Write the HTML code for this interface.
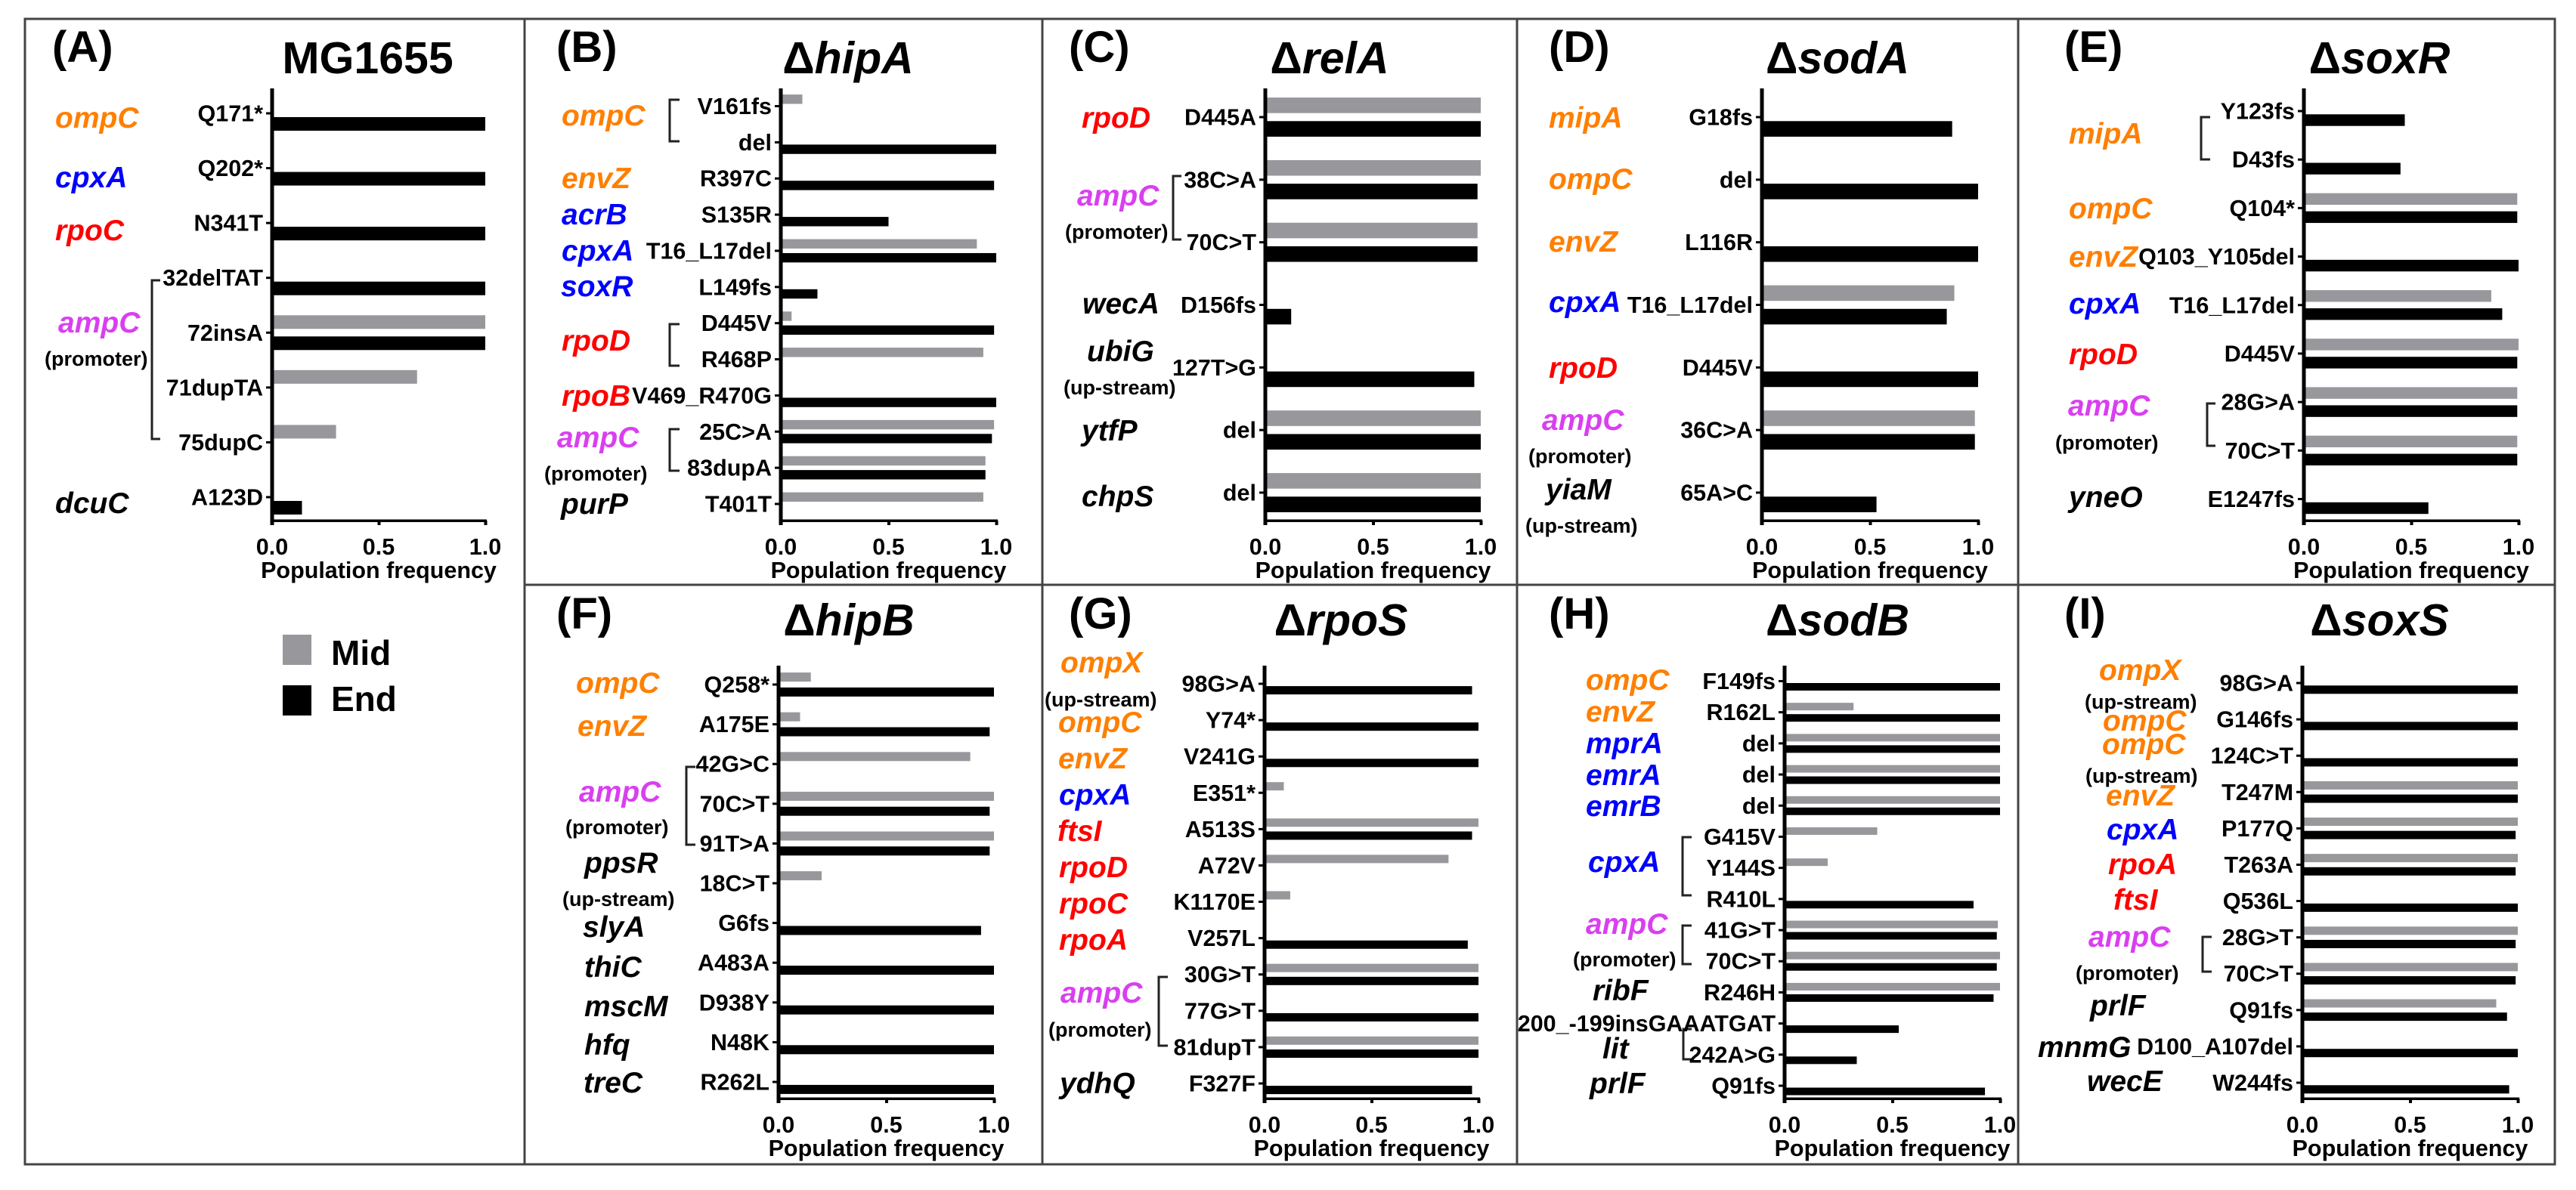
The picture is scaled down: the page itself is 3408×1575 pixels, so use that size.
<!DOCTYPE html>
<html lang="en">
<head>
<meta charset="utf-8">
<title>Population frequency of mutations per strain</title>
<style>
  html, body { margin: 0; padding: 0; background: #fff; }
  svg { display: block; }
  text { font-family: "Liberation Sans", sans-serif; font-weight: 700; fill: #000; }
  .letter { font-size: 58px; }
  .title { font-size: 59px; text-anchor: middle; }
  .it { font-style: italic; }
  .g { font-size: 39px; font-style: italic; }
  .o { fill: #ff7f00; }
  .b { fill: #0000ff; }
  .r { fill: #ff0000; }
  .m { fill: #d93ff0; }
  .s { font-size: 27px; }
  .lab { font-size: 30.5px; text-anchor: end; }
  .tick { font-size: 30.5px; text-anchor: middle; }
  .legend-text { font-size: 46px; }
  .br { fill: none; stroke: #222; stroke-width: 3; }
  .frame { stroke: #444; stroke-width: 3; fill: none; }
</style>
</head>
<body>
<svg id="figure" xmlns="http://www.w3.org/2000/svg" width="3408" height="1575" viewBox="0 0 3408 1575">
  <rect width="3408" height="1575" fill="#fff"/>
  <g>
    <rect class="frame" x="33" y="25" width="3347" height="1516"/>
    <line class="frame" x1="694" y1="25" x2="694" y2="1541"/>
    <line class="frame" x1="1379" y1="25" x2="1379" y2="1541"/>
    <line class="frame" x1="2007" y1="25" x2="2007" y2="1541"/>
    <line class="frame" x1="2670" y1="25" x2="2670" y2="1541"/>
    <line class="frame" x1="694" y1="774" x2="3380" y2="774"/>
  </g>

  <!-- Panel letters -->
  <text class="letter" x="69" y="82">(A)</text>
  <text class="letter" x="736" y="82">(B)</text>
  <text class="letter" x="1414" y="82">(C)</text>
  <text class="letter" x="2049" y="82">(D)</text>
  <text class="letter" x="2731" y="82">(E)</text>
  <text class="letter" x="736" y="832">(F)</text>
  <text class="letter" x="1414" y="832">(G)</text>
  <text class="letter" x="2049" y="832">(H)</text>
  <text class="letter" x="2731" y="832">(I)</text>

  <!-- Panel titles -->
  <text class="title" x="486.5" y="97">MG1655</text>
  <text class="title" x="1122" y="97">Δ<tspan class="it">hipA</tspan></text>
  <text class="title" x="1759" y="97">Δ<tspan class="it">relA</tspan></text>
  <text class="title" x="2431" y="97">Δ<tspan class="it">sodA</tspan></text>
  <text class="title" x="3148" y="97">Δ<tspan class="it">soxR</tspan></text>
  <text class="title" x="1123" y="841">Δ<tspan class="it">hipB</tspan></text>
  <text class="title" x="1774" y="841">Δ<tspan class="it">rpoS</tspan></text>
  <text class="title" x="2431" y="841">Δ<tspan class="it">sodB</tspan></text>
  <text class="title" x="3148" y="841">Δ<tspan class="it">soxS</tspan></text>

  <!-- Panel A genes -->
  <g>
    <text class="g o" x="73" y="169">ompC</text>
    <text class="g b" x="73" y="248">cpxA</text>
    <text class="g r" x="73" y="318">rpoC</text>
    <text class="g m" x="77" y="440">ampC</text>
    <text class="s" x="59" y="484">(promoter)</text>
    <text class="g" x="73" y="679">dcuC</text>
    <path class="br" d="M212 371H201V581H212"/>
  </g>

  <!-- Panel B genes -->
  <g>
    <text class="g o" x="743" y="166">ompC</text>
    <text class="g o" x="743" y="249">envZ</text>
    <text class="g b" x="743" y="297">acrB</text>
    <text class="g b" x="743" y="345">cpxA</text>
    <text class="g b" x="742" y="392">soxR</text>
    <text class="g r" x="743" y="464">rpoD</text>
    <text class="g r" x="743" y="537">rpoB</text>
    <text class="g m" x="737" y="592">ampC</text>
    <text class="s" x="720" y="636">(promoter)</text>
    <text class="g" x="742" y="680">purP</text>
    <path class="br" d="M899 132H886V187H899"/>
    <path class="br" d="M899 429H886V484H899"/>
    <path class="br" d="M899 568H886V623H899"/>
  </g>

  <!-- Panel C genes -->
  <g>
    <text class="g r" x="1431" y="169">rpoD</text>
    <text class="g m" x="1425" y="272">ampC</text>
    <text class="s" x="1409" y="316">(promoter)</text>
    <text class="g" x="1432" y="415">wecA</text>
    <text class="g" x="1438" y="478">ubiG</text>
    <text class="s" x="1407" y="522">(up-stream)</text>
    <text class="g" x="1431" y="583">ytfP</text>
    <text class="g" x="1431" y="670">chpS</text>
    <path class="br" d="M1563 233H1552V317H1563"/>
  </g>

  <!-- Panel D genes -->
  <g>
    <text class="g o" x="2049" y="169">mipA</text>
    <text class="g o" x="2049" y="250">ompC</text>
    <text class="g o" x="2049" y="333">envZ</text>
    <text class="g b" x="2049" y="413">cpxA</text>
    <text class="g r" x="2049" y="500">rpoD</text>
    <text class="g m" x="2040" y="569">ampC</text>
    <text class="s" x="2022" y="613">(promoter)</text>
    <text class="g" x="2045" y="661">yiaM</text>
    <text class="s" x="2018" y="705">(up-stream)</text>
  </g>

  <!-- Panel E genes -->
  <g>
    <text class="g o" x="2737" y="190">mipA</text>
    <text class="g o" x="2737" y="289">ompC</text>
    <text class="g o" x="2737" y="353">envZ</text>
    <text class="g b" x="2737" y="415">cpxA</text>
    <text class="g r" x="2737" y="482">rpoD</text>
    <text class="g m" x="2736" y="550">ampC</text>
    <text class="s" x="2719" y="595">(promoter)</text>
    <text class="g" x="2737" y="671">yneO</text>
    <path class="br" d="M2924 155H2912V211H2924"/>
    <path class="br" d="M2931 534H2920V590H2931"/>
  </g>

  <!-- Panel F genes -->
  <g>
    <text class="g o" x="762" y="917">ompC</text>
    <text class="g o" x="764" y="974">envZ</text>
    <text class="g m" x="766" y="1061">ampC</text>
    <text class="s" x="748" y="1104">(promoter)</text>
    <text class="g" x="773" y="1155">ppsR</text>
    <text class="s" x="744" y="1199">(up-stream)</text>
    <text class="g" x="771" y="1240">slyA</text>
    <text class="g" x="773" y="1293">thiC</text>
    <text class="g" x="773" y="1345">mscM</text>
    <text class="g" x="773" y="1396">hfq</text>
    <text class="g" x="772" y="1446">treC</text>
    <path class="br" d="M920 1015H908V1118H920"/>
  </g>

  <!-- Panel G genes -->
  <g>
    <text class="g o" x="1403" y="890">ompX</text>
    <text class="s" x="1382" y="935">(up-stream)</text>
    <text class="g o" x="1400" y="969">ompC</text>
    <text class="g o" x="1400" y="1017">envZ</text>
    <text class="g b" x="1401" y="1065">cpxA</text>
    <text class="g r" x="1399" y="1113">ftsI</text>
    <text class="g r" x="1401" y="1161">rpoD</text>
    <text class="g r" x="1401" y="1209">rpoC</text>
    <text class="g r" x="1401" y="1257">rpoA</text>
    <text class="g m" x="1403" y="1327">ampC</text>
    <text class="s" x="1387" y="1372">(promoter)</text>
    <text class="g" x="1402" y="1447">ydhQ</text>
    <path class="br" d="M1545 1293H1533V1384H1545"/>
  </g>

  <!-- Panel H genes -->
  <g>
    <text class="g o" x="2098" y="913">ompC</text>
    <text class="g o" x="2098" y="955">envZ</text>
    <text class="g b" x="2098" y="997">mprA</text>
    <text class="g b" x="2098" y="1039">emrA</text>
    <text class="g b" x="2098" y="1080">emrB</text>
    <text class="g b" x="2101" y="1154">cpxA</text>
    <text class="g m" x="2098" y="1236">ampC</text>
    <text class="s" x="2081" y="1279">(promoter)</text>
    <text class="g" x="2107" y="1324">ribF</text>
    <text class="g" x="2120" y="1401">lit</text>
    <text class="g" x="2103" y="1447">prlF</text>
    <path class="br" d="M2238 1108H2226V1185H2238"/>
    <path class="br" d="M2238 1225H2226V1276H2238"/>
    <path class="br" d="M2238 1362H2227V1402H2238"/>
  </g>

  <!-- Panel I genes -->
  <g>
    <text class="g o" x="2777" y="900">ompX</text>
    <text class="s" x="2758" y="938">(up-stream)</text>
    <text class="g o" x="2782" y="967">ompC</text>
    <text class="g o" x="2781" y="998">ompC</text>
    <text class="s" x="2759" y="1036">(up-stream)</text>
    <text class="g o" x="2786" y="1066">envZ</text>
    <text class="g b" x="2787" y="1111">cpxA</text>
    <text class="g r" x="2789" y="1157">rpoA</text>
    <text class="g r" x="2796" y="1204">ftsI</text>
    <text class="g m" x="2763" y="1253">ampC</text>
    <text class="s" x="2746" y="1297">(promoter)</text>
    <text class="g" x="2765" y="1344">prlF</text>
    <text class="g" x="2696" y="1399">mnmG</text>
    <text class="g" x="2761" y="1444">wecE</text>
    <path class="br" d="M2926 1240H2914V1286H2926"/>
  </g>

  <!-- Legend -->
  <g>
    <g>
      <rect x="374" y="840" width="38" height="40" fill="#98989c"/>
      <text class="legend-text" x="438" y="880">Mid</text>
    </g>
    <g>
      <rect x="374" y="907" width="38" height="40" fill="#000"/>
      <text class="legend-text" x="438" y="941">End</text>
    </g>
  </g>

  <g id="charts"></g>
</svg>

<script>
const xTickValues = [0, 0.5, 1];
const xTickLabels = ['0.0', '0.5', '1.0'];
const xAxisTitle = 'Population frequency';

const catsA = ['Q171*', 'Q202*', 'N341T', '32delTAT', '72insA', '71dupTA', '75dupC', 'A123D'];
const midA = [0, 0, 0, 0, 1, 0.68, 0.3, 0];
const endA = [1, 1, 1, 1, 1, 0, 0, 0.14];

const catsB = ['V161fs', 'del', 'R397C', 'S135R', 'T16_L17del', 'L149fs', 'D445V', 'R468P', 'V469_R470G', '25C>A', '83dupA', 'T401T'];
const midB = [0.1, 0, 0, 0, 0.91, 0, 0.05, 0.94, 0, 0.99, 0.95, 0.94];
const endB = [0, 1, 0.99, 0.5, 1, 0.17, 0.99, 0, 1, 0.98, 0.95, 0];

const catsC = ['D445A', '38C>A', '70C>T', 'D156fs', '127T>G', 'del', 'del'];
const midC = [1, 1, 0.985, 0, 0, 1, 1];
const endC = [1, 0.985, 0.985, 0.12, 0.97, 1, 1];

const catsD = ['G18fs', 'del', 'L116R', 'T16_L17del', 'D445V', '36C>A', '65A>C'];
const midD = [0, 0, 0, 0.89, 0, 0.985, 0];
const endD = [0.88, 1, 1, 0.855, 1, 0.985, 0.53];

const catsE = ['Y123fs', 'D43fs', 'Q104*', 'Q103_Y105del', 'T16_L17del', 'D445V', '28G>A', '70C>T', 'E1247fs'];
const midE = [0, 0, 0.994, 0, 0.873, 1, 0.994, 0.994, 0];
const endE = [0.47, 0.45, 0.994, 1, 0.924, 0.994, 0.994, 0.994, 0.58];

const catsF = ['Q258*', 'A175E', '42G>C', '70C>T', '91T>A', '18C>T', 'G6fs', 'A483A', 'D938Y', 'N48K', 'R262L'];
const midF = [0.15, 0.1, 0.89, 1, 1, 0.2, 0, 0, 0, 0, 0];
const endF = [1, 0.98, 0, 0.98, 0.98, 0, 0.94, 1, 1, 1, 1];

const catsG = ['98G>A', 'Y74*', 'V241G', 'E351*', 'A513S', 'A72V', 'K1170E', 'V257L', '30G>T', '77G>T', '81dupT', 'F327F'];
const midG = [0, 0, 0, 0.09, 1, 0.86, 0.12, 0, 1, 0, 1, 0];
const endG = [0.97, 1, 1, 0, 0.97, 0, 0, 0.95, 1, 1, 1, 0.97];

const catsH = ['F149fs', 'R162L', 'del', 'del', 'del', 'G415V', 'Y144S', 'R410L', '41G>T', '70C>T', 'R246H', '200_-199insGAAATGAT', '242A>G', 'Q91fs'];
const midH = [0, 0.32, 1, 1, 1, 0.43, 0.2, 0, 0.99, 1, 1, 0, 0, 0];
const endH = [1, 1, 1, 1, 1, 0, 0, 0.877, 0.985, 0.985, 0.97, 0.53, 0.335, 0.93];

const catsI = ['98G>A', 'G146fs', '124C>T', 'T247M', 'P177Q', 'T263A', 'Q536L', '28G>T', '70C>T', 'Q91fs', 'D100_A107del', 'W244fs'];
const midI = [0, 0, 0, 1, 1, 1, 0, 1, 1, 0.9, 0, 0];
const endI = [1, 1, 1, 1, 0.99, 0.99, 1, 0.99, 0.99, 0.95, 1, 0.96];

const SVG_NS = 'http://www.w3.org/2000/svg';
const chartsRoot = document.getElementById('charts');

function make(parent, tag, attrs, text) {
  const el = document.createElementNS(SVG_NS, tag);
  for (const k in attrs) el.setAttribute(k, attrs[k]);
  if (text !== undefined) el.textContent = text;
  parent.appendChild(el);
  return el;
}

function drawPanel(cfg) {
  const scaleX = v => cfg.x0 + v * (cfg.x1 - cfg.x0);
  const step = (cfg.lastY - cfg.firstY) / (cfg.cats.length - 1);
  const scaleY = i => cfg.firstY + i * step;

  const g = make(chartsRoot, 'g', {});
  
  

  cfg.mid.forEach((v, i) => {
    if (!v) return;
    const r = make(g, 'rect', { x: cfg.x0, y: scaleY(i) - cfg.off - cfg.h / 2, width: scaleX(v) - cfg.x0, height: cfg.h, fill: '#98989c' });
    
    
  });
  cfg.end.forEach((v, i) => {
    if (!v) return;
    const r = make(g, 'rect', { x: cfg.x0, y: scaleY(i) + cfg.off - cfg.h / 2, width: scaleX(v) - cfg.x0, height: cfg.h, fill: '#000' });
    
    
  });

  const yAxis = make(g, 'rect', { x: cfg.x0 - 2.5, y: cfg.top, width: 5, height: cfg.axisY + 6 - cfg.top, fill: '#000' });
  
  

  const xAxis = make(g, 'rect', { x: cfg.x0, y: cfg.axisY - 1.5, width: cfg.x1 - cfg.x0 + 2, height: 3.5, fill: '#000' });
  
  

  cfg.cats.forEach((c, i) => {
    const t = make(g, 'rect', { x: cfg.x0 - 8, y: scaleY(i) - 1.5, width: 6, height: 3, fill: '#000' });
    
    
    const l = make(g, 'text', { class: 'lab', x: cfg.x0 - 12, y: scaleY(i) + 10.5 }, c);
    
    
  });

  xTickValues.forEach((v, i) => {
    const t = make(g, 'rect', { x: scaleX(v) - 1.5, y: cfg.axisY, width: 4, height: 6, fill: '#000' });
    
    
    const l = make(g, 'text', { class: 'tick', x: scaleX(v), y: cfg.axisY + 45 }, xTickLabels[i]);
    
    
  });

  const title = make(g, 'text', { class: 'tick', x: (cfg.x0 + cfg.x1) / 2, y: cfg.axisY + 76 }, xAxisTitle);
  
  
}

drawPanel({ id: 'a', cats: catsA, mid: midA, end: endA, x0: 360, x1: 642, top: 117, axisY: 689, firstY: 150, lastY: 658, off: 14, h: 18 });
drawPanel({ id: 'b', cats: catsB, mid: midB, end: endB, x0: 1033, x1: 1318, top: 117, axisY: 689, firstY: 140.5, lastY: 667, off: 9.2, h: 12.4 });
drawPanel({ id: 'c', cats: catsC, mid: midC, end: endC, x0: 1674, x1: 1959, top: 117, axisY: 689, firstY: 155, lastY: 652, off: 15.6, h: 20.6 });
drawPanel({ id: 'd', cats: catsD, mid: midD, end: endD, x0: 2331, x1: 2617, top: 117, axisY: 689, firstY: 155, lastY: 652, off: 15.6, h: 20.6 });
drawPanel({ id: 'e', cats: catsE, mid: midE, end: endE, x0: 3048, x1: 3332, top: 117, axisY: 689, firstY: 147, lastY: 660.5, off: 12, h: 15.4 });
drawPanel({ id: 'f', cats: catsF, mid: midF, end: endF, x0: 1030, x1: 1315, top: 881, axisY: 1454, firstY: 906, lastY: 1432, off: 9.9, h: 12 });
drawPanel({ id: 'g', cats: catsG, mid: midG, end: endG, x0: 1673, x1: 1956, top: 881, axisY: 1454, firstY: 905, lastY: 1434, off: 8.6, h: 11 });
drawPanel({ id: 'h', cats: catsH, mid: midH, end: endH, x0: 2361, x1: 2646, top: 881, axisY: 1454, firstY: 901.5, lastY: 1437, off: 7.5, h: 10 });
drawPanel({ id: 'i', cats: catsI, mid: midI, end: endI, x0: 3046, x1: 3331, top: 881, axisY: 1454, firstY: 904, lastY: 1433, off: 8.8, h: 11 });
</script>
</body>
</html>
